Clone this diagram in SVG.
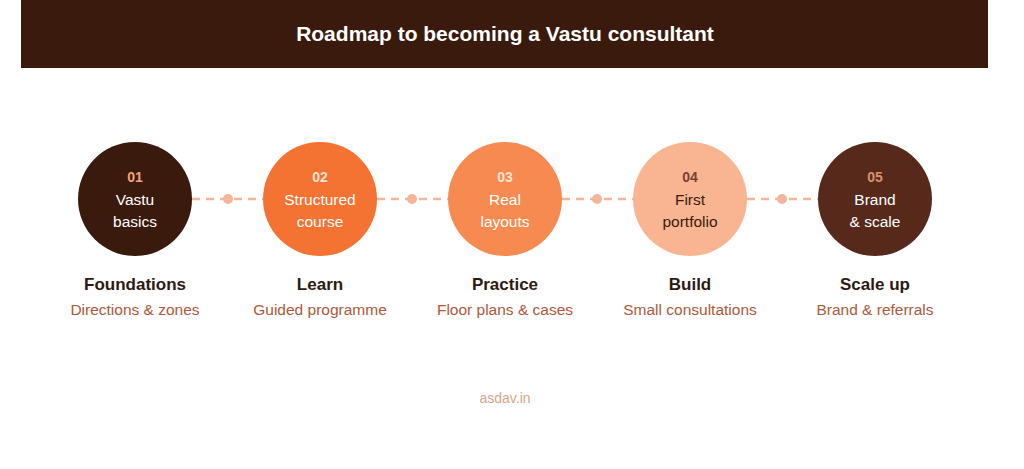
<svg xmlns="http://www.w3.org/2000/svg" width="1024" height="469" viewBox="0 0 1024 469">
<style>
text{font-family:"Liberation Sans",Arial,sans-serif;text-anchor:middle}
.num{font-size:14px;font-weight:bold}
.in{font-size:15.5px}
.t{font-size:17px;font-weight:bold;fill:#2e1a12}
.s{font-size:15.5px;fill:#b0583a}
.c{stroke:#f5b598;stroke-width:2.5;stroke-dasharray:8 6;fill:none}
.d{fill:#f5b598}
</style>
<rect width="1024" height="469" fill="#fff"/>
<rect x="21" y="0" width="967" height="68" fill="#3a1a0c"/>
<text x="505" y="41" style="font-size:21px;font-weight:bold;fill:#fff">Roadmap to becoming a Vastu consultant</text>
<g id="connectors">
<path class="c" d="M192 199H263M377 199H448M562 199H633M747 199H818"/>
<circle class="d" cx="228" cy="199" r="5"/><circle class="d" cx="412" cy="199" r="5"/><circle class="d" cx="597" cy="199" r="5"/><circle class="d" cx="782" cy="199" r="5"/>
</g>
<g id="n1"><circle cx="135" cy="199" r="57" fill="#3a1a0c"/><text class="num" x="135" y="182" fill="#f3a27a">01</text><text class="in" x="135" y="205" fill="#fff">Vastu</text><text class="in" x="135" y="227" fill="#fff">basics</text><text class="t" x="135" y="290">Foundations</text><text class="s" x="135" y="315">Directions &amp; zones</text></g>
<g id="n2"><circle cx="320" cy="199" r="57" fill="#f47232"/><text class="num" x="320" y="182" fill="#fde3d2">02</text><text class="in" x="320" y="205" fill="#fff">Structured</text><text class="in" x="320" y="227" fill="#fff">course</text><text class="t" x="320" y="290">Learn</text><text class="s" x="320" y="315">Guided programme</text></g>
<g id="n3"><circle cx="505" cy="199" r="57" fill="#f78a50"/><text class="num" x="505" y="182" fill="#fde3d2">03</text><text class="in" x="505" y="205" fill="#fff">Real</text><text class="in" x="505" y="227" fill="#fff">layouts</text><text class="t" x="505" y="290">Practice</text><text class="s" x="505" y="315">Floor plans &amp; cases</text></g>
<g id="n4"><circle cx="690" cy="199" r="57" fill="#f9b592"/><text class="num" x="690" y="182" fill="#7a4030">04</text><text class="in" x="690" y="205" fill="#3a1a0c">First</text><text class="in" x="690" y="227" fill="#3a1a0c">portfolio</text><text class="t" x="690" y="290">Build</text><text class="s" x="690" y="315">Small consultations</text></g>
<g id="n5"><circle cx="875" cy="199" r="57" fill="#57291a"/><text class="num" x="875" y="182" fill="#d9906e">05</text><text class="in" x="875" y="205" fill="#fff">Brand</text><text class="in" x="875" y="227" fill="#fff">&amp; scale</text><text class="t" x="875" y="290">Scale up</text><text class="s" x="875" y="315">Brand &amp; referrals</text></g>
<text x="505" y="403" style="font-size:14px;fill:#d9a58a">asdav.in</text>
</svg>
